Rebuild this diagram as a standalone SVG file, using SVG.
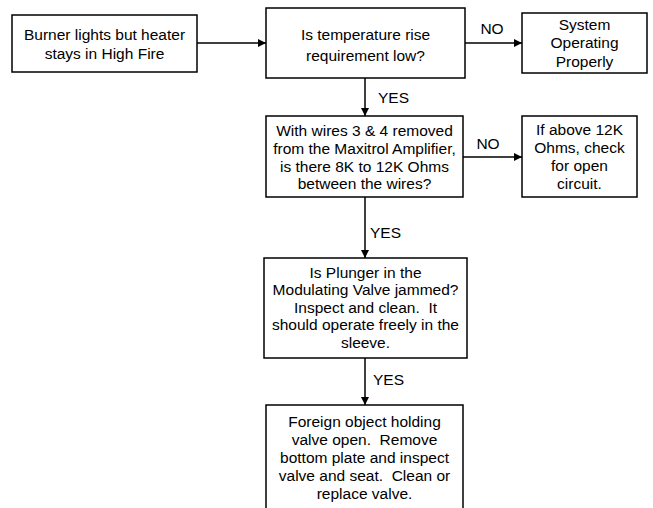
<svg xmlns="http://www.w3.org/2000/svg" width="653" height="508" viewBox="0 0 653 508">
<style>
rect.b{fill:#fff;stroke:#000;stroke-width:1.5}
text{font-family:"Liberation Sans",Arial,sans-serif;font-size:15.5px;fill:#000;text-anchor:middle;white-space:pre}
text.l{text-anchor:start}
.c line{stroke:#000;stroke-width:1.5;marker-end:url(#ah)}
</style>
<defs>
<marker id="ah" viewBox="0 0 10 10" refX="10" refY="5" markerWidth="8" markerHeight="8" orient="auto" markerUnits="userSpaceOnUse"><path d="M0,0L10,5L0,10z" fill="#000"/></marker>
</defs>
<rect width="653" height="508" fill="#fff"/>
<g class="c" id="connectors">
<line x1="197" y1="43" x2="266" y2="43"/>
<line x1="465" y1="43" x2="522" y2="43"/>
<line x1="365" y1="78" x2="365" y2="116"/>
<line x1="463" y1="157" x2="522" y2="157"/>
<line x1="365" y1="197" x2="365" y2="258"/>
<line x1="365" y1="358" x2="365" y2="405"/>
<text x="492" y="34">NO</text>
<text class="l" x="378" y="103">YES</text>
<text x="488" y="149">NO</text>
<text class="l" x="370" y="238">YES</text>
<text class="l" x="373" y="385">YES</text>
</g>
<g id="n1"><rect class="b" x="12" y="15" width="185" height="57"/>
<text x="104.5" y="40">Burner lights but heater</text><text x="104.5" y="59">stays in High Fire</text></g>
<g id="n2"><rect class="b" x="266" y="8" width="199" height="70"/>
<text x="365.5" y="40">Is temperature rise</text><text x="365.5" y="61">requirement low?</text></g>
<g id="n3"><rect class="b" x="522" y="13" width="125" height="60"/>
<text x="584.5" y="30">System</text><text x="584.5" y="48">Operating</text><text x="584.5" y="67">Properly</text></g>
<g id="n4"><rect class="b" x="266" y="116" width="197" height="81"/>
<text x="364.5" y="136">With wires 3 &amp; 4 removed</text><text x="364.5" y="154">from the Maxitrol Amplifier,</text><text x="364.5" y="172">is there 8K to 12K Ohms</text><text x="364.5" y="189">between the wires?</text></g>
<g id="n5"><rect class="b" x="522" y="116" width="115" height="81"/>
<text x="579.5" y="135">If above 12K</text><text x="579.5" y="153">Ohms, check</text><text x="579.5" y="171">for open</text><text x="579.5" y="189">circuit.</text></g>
<g id="n6"><rect class="b" x="264" y="258" width="203" height="100"/>
<text x="365.5" y="278">Is Plunger in the</text><text x="365.5" y="295">Modulating Valve jammed?</text><text x="365.5" y="313">Inspect and clean.  It</text><text x="365.5" y="330">should operate freely in the</text><text x="365.5" y="348">sleeve.</text></g>
<g id="n7"><rect class="b" x="266" y="405" width="197" height="110"/>
<text x="364.5" y="427">Foreign object holding</text><text x="364.5" y="445">valve open.  Remove</text><text x="364.5" y="463">bottom plate and inspect</text><text x="364.5" y="481">valve and seat.  Clean or</text><text x="364.5" y="499">replace valve.</text></g>
</svg>
